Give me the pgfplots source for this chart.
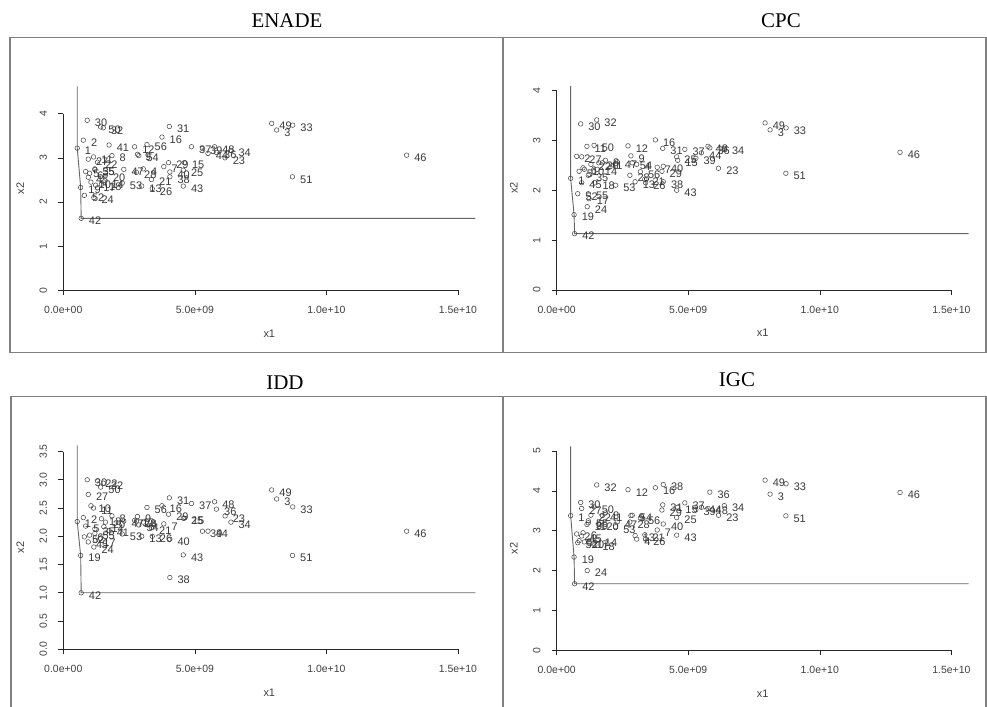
\documentclass[border=0pt]{standalone}
\usepackage{pgfplots}
\pgfplotsset{compat=1.18}
\usepackage{pgfplotstable}
\usepackage{fontspec}
\setmainfont{Liberation Sans}
\newfontfamily\titlefont{Liberation Serif}

% x in units of 1e9; yE=ENADE, yC=CPC, yD=IDD, yG=IGC
\pgfplotstableread{
id x yE yC yD yG
1 0.53 3.22 2.24 2.26 3.38
2 0.76 3.40 2.68 2.33 2.92
3 8.11 3.63 3.21 2.66 3.92
4 3.04 2.75 2.52 2.25 2.79
5 0.85 2.69 2.38 2.18 2.75
6 1.00 2.65 2.45 2.02 2.95
7 3.82 2.80 2.46 2.22 3.02
8 1.85 3.05 2.60 2.36 3.45
9 2.82 3.08 2.69 2.35 3.38
10 1.05 2.45 2.42 2.54 2.72
11 1.15 3.02 2.88 2.50 3.16
12 2.71 3.25 2.89 2.28 4.03
13 2.98 2.36 2.17 2.00 2.88
14 1.54 2.45 2.42 2.17 2.76
15 4.60 2.89 2.60 2.32 3.59
16 3.75 3.47 3.01 2.54 4.08
17 1.23 2.38 1.83 1.93 2.72
18 1.45 2.40 2.15 2.31 2.65
19 0.66 2.33 1.51 1.66 2.34
20 1.60 2.60 2.55 2.25 3.16
21 3.35 2.51 2.22 2.15 2.90
22 1.30 2.90 2.52 2.98 3.39
23 6.15 3.00 2.44 2.36 3.39
24 1.16 2.10 1.67 1.81 2.00
25 4.56 2.72 2.67 2.32 3.33
26 3.38 2.30 2.15 2.00 2.79
27 0.95 2.97 2.67 2.74 3.56
28 2.78 2.67 2.30 2.27 3.22
29 4.00 2.89 2.38 2.39 3.52
30 0.91 3.85 3.33 3.00 3.71
31 4.03 3.71 2.84 2.68 3.65
32 1.52 3.68 3.41 2.94 4.15
33 8.72 3.74 3.25 2.52 4.18
34 6.37 3.17 2.84 2.25 3.63
35 1.20 2.75 2.30 2.13 3.20
36 5.82 3.12 2.85 2.48 3.97
37 4.87 3.25 2.82 2.58 3.70
38 4.05 2.57 2.17 1.27 4.16
39 5.29 3.21 2.64 2.09 3.53
40 4.05 2.68 2.48 1.95 3.17
41 1.74 3.29 2.55 2.10 3.38
42 0.68 1.63 1.13 1.00 1.67
43 4.56 2.36 2.00 1.67 2.89
44 5.50 3.10 2.75 2.09 3.59
45 0.95 2.56 2.15 1.90 2.87
46 13.05 3.06 2.76 2.09 3.96
47 2.30 2.74 2.57 2.27 3.22
48 5.75 3.25 2.88 2.61 3.56
49 7.92 3.78 3.35 2.82 4.27
50 1.42 3.70 2.90 2.87 3.60
51 8.71 2.57 2.34 1.66 3.375
52 0.80 2.15 1.93 1.99 2.70
53 2.24 2.43 2.10 2.04 3.10
54 2.87 3.05 2.55 2.20 3.39
55 1.20 2.73 1.93 2.05 3.25
56 3.18 3.30 2.37 2.51 3.32
}\data

\newcommand{\ticklab}{\fontsize{10.5}{12}\selectfont}
\newcommand{\ptlab}{\fontsize{11}{12}\selectfont}

\pgfplotsset{
  rplot/.style={
    scale only axis, width=412bp, height=204bp,
    xmin=0, xmax=15.66, ymin=0,
    axis x line*=bottom, axis y line*=left,
    axis line style={draw=none},
    tick align=outside, major tick length=5bp,
    every tick/.style={black!85, line width=0.6bp},
    xtick={0,5,10,15},
    xticklabels={\mbox{0.0e+00},\mbox{5.0e+09},\mbox{1.0e+10},\mbox{1.5e+10}},
    ticklabel style={font=\ticklab, text=black!75},
    xticklabel style={anchor=center, yshift=-15bp},
    yticklabel style={anchor=center, rotate=90, yshift=15bp},
    clip=false,
  },
  pts/.style={only marks, mark=o, mark size=2.3bp, black!75,
    mark options={line width=0.5bp},
    nodes near coords, point meta=explicit symbolic,
    every node near coord/.append style={anchor=west, xshift=7.5bp, yshift=-2.5bp,
      inner sep=0pt, font=\ptlab, text=black!78}},
  front/.style={black!60, line width=0.9bp, no marks},
}

\newcommand{\axlabels}{%
  \node[font=\ptlab, text=black!75] at ([yshift=-43bp]axis description cs:0.5,0) {x1};
  \node[font=\ptlab, text=black!75, rotate=90] at ([xshift=-43bp]axis description cs:0,0.5) {x2};
}

\begin{document}
\begin{tikzpicture}
\path[use as bounding box] (0,0) rectangle (987bp,707bp);

% frames
\draw[black!50, line width=1.1bp] (10bp,669.7bp) rectangle (503bp,354.5bp);
\draw[black!50, line width=1.1bp] (503bp,669.7bp) rectangle (986bp,354.5bp);
\draw[black!50, line width=1.1bp] (11bp,310.3bp) rectangle (503bp,-2bp);
\draw[black!50, line width=1.1bp] (503bp,310.3bp) rectangle (986bp,-2bp);

% titles
\node[font=\titlefont\fontsize{21}{24}\selectfont] at (287bp,686bp) {ENADE};
\node[font=\titlefont\fontsize{21}{24}\selectfont] at (781bp,686bp) {CPC};
\node[font=\titlefont\fontsize{21}{24}\selectfont] at (285bp,324bp) {IDD};
\node[font=\titlefont\fontsize{21}{24}\selectfont] at (737bp,327bp) {IGC};

% ENADE
\begin{axis}[rplot, at={(63.3bp,416.7bp)}, anchor=south west, ymax=4.62,
  ytick={0,1,2,3,4}, yticklabels={\mbox{0},\mbox{1},\mbox{2},\mbox{3},\mbox{4}}]
  \addplot[front] coordinates {(0.53,4.62) (0.53,3.22) (0.66,2.33) (0.68,1.63) (15.66,1.63)};
  \addplot[pts] table[x=x, y=yE, meta=id] {\data};
  \draw[black!85, line width=0.7bp] (axis cs:0,0) -- (axis cs:15,0);
  \draw[black!85, line width=0.7bp] (axis cs:0,0) -- (axis cs:0,4);
  \axlabels
\end{axis}

% CPC
\begin{axis}[rplot, at={(556.7bp,417bp)}, anchor=south west, ymax=4.09,
  ytick={0,1,2,3,4}, yticklabels={\mbox{0},\mbox{1},\mbox{2},\mbox{3},\mbox{4}}]
  \addplot[front] coordinates {(0.53,4.09) (0.53,2.24) (0.66,1.51) (0.68,1.13) (15.66,1.13)};
  \addplot[pts] table[x=x, y=yC, meta=id] {\data};
  \draw[black!85, line width=0.7bp] (axis cs:0,0) -- (axis cs:15,0);
  \draw[black!85, line width=0.7bp] (axis cs:0,0) -- (axis cs:0,4);
  \axlabels
\end{axis}

% IDD
\begin{axis}[rplot, at={(63.3bp,57.7bp)}, anchor=south west, ymax=3.61,
  ytick={0,0.5,1,1.5,2,2.5,3,3.5},
  yticklabels={\mbox{0.0},\mbox{0.5},\mbox{1.0},\mbox{1.5},\mbox{2.0},\mbox{2.5},\mbox{3.0},\mbox{3.5}}]
  \addplot[front] coordinates {(0.53,3.61) (0.53,2.26) (0.66,1.66) (0.68,1.00) (15.66,1.00)};
  \addplot[pts] table[x=x, y=yD, meta=id] {\data};
  \draw[black!85, line width=0.7bp] (axis cs:0,0) -- (axis cs:15,0);
  \draw[black!85, line width=0.7bp] (axis cs:0,0) -- (axis cs:0,3.5);
  \axlabels
\end{axis}

% IGC
\begin{axis}[rplot, at={(556.7bp,56.7bp)}, anchor=south west, ymax=5.12,
  ytick={0,1,2,3,4,5}, yticklabels={\mbox{0},\mbox{1},\mbox{2},\mbox{3},\mbox{4},\mbox{5}}]
  \addplot[front] coordinates {(0.53,5.12) (0.53,3.38) (0.66,2.34) (0.68,1.67) (15.66,1.67)};
  \addplot[pts] table[x=x, y=yG, meta=id] {\data};
  \draw[black!85, line width=0.7bp] (axis cs:0,0) -- (axis cs:15,0);
  \draw[black!85, line width=0.7bp] (axis cs:0,0) -- (axis cs:0,5);
  \axlabels
\end{axis}
\end{tikzpicture}
\end{document}
